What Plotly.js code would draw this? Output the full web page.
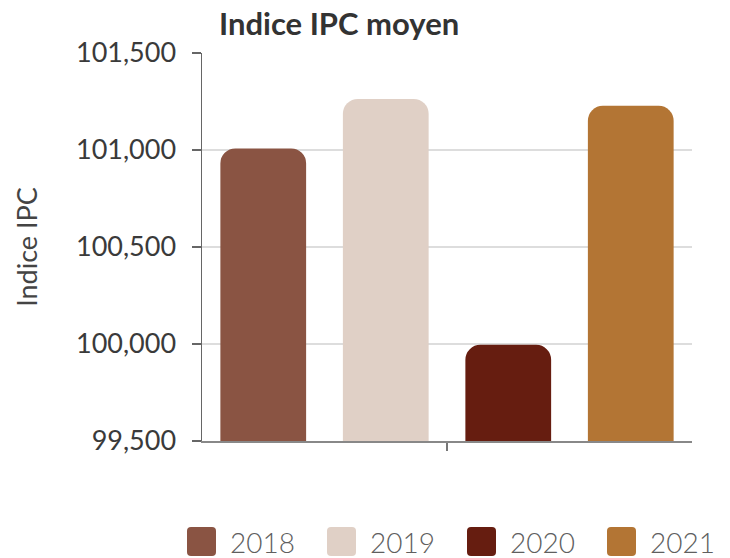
<!DOCTYPE html>
<html>
<head>
<meta charset="utf-8">
<script src="https://cdn.plot.ly/plotly-3.0.1.min.js"></script>
<style>
  html, body { margin: 0; padding: 0; background: #ffffff; }
  #chart { width: 730px; height: 558px; }
</style>
</head>
<body>
<div id="chart"></div>
<script>
// ---- Data ----
const category = ['Indice IPC moyen'];
const years = ['2018', '2019', '2020', '2021'];
const values = [101008, 101263, 99996, 101228];
const colors = ['#8a5443', '#e0d0c6', '#661d10', '#b37534'];
const yTicks = [99500, 100000, 100500, 101000, 101500];

const traces = years.map((yr, i) => ({
  type: 'bar',
  name: yr,
  x: category,
  y: [values[i]],
  marker: { color: colors[i], line: { width: 0 } },
  showlegend: false,
  hovertemplate: yr + ': %{y:,}<extra></extra>'
}));

// Custom legend (large rounded squares + text), positioned in pixels from plot bottom-left
const shapes = [];
const annotations = [];
const itemStep = 140, sq = 29, sqLeft = -15, sqTop = -86, r = 4;
years.forEach((yr, i) => {
  const L = sqLeft + i * itemStep, R = L + sq, T = sqTop, B = sqTop - sq;
  const path = `M${L + r},${T} L${R - r},${T} Q${R},${T} ${R},${T - r} L${R},${B + r} Q${R},${B} ${R - r},${B} ` +
               `L${L + r},${B} Q${L},${B} ${L},${B + r} L${L},${T - r} Q${L},${T} ${L + r},${T} Z`;
  shapes.push({
    type: 'path', xref: 'paper', yref: 'paper',
    xsizemode: 'pixel', ysizemode: 'pixel', xanchor: 0, yanchor: 0,
    path: path, fillcolor: colors[i], line: { width: 0 }
  });
  annotations.push({
    xref: 'paper', yref: 'paper', x: 0, y: 0,
    xshift: L + 41, yshift: -100.5,
    xanchor: 'left', yanchor: 'middle',
    text: yr, showarrow: false,
    font: { family: 'Lato, sans-serif', size: 28, weight: 300, color: '#5f5f5f' }
  });
});

const layout = {
  width: 730, height: 558,
  margin: { l: 202, r: 38, t: 53, b: 117, pad: 0 },
  paper_bgcolor: '#ffffff', plot_bgcolor: '#ffffff',
  font: { family: 'Lato, sans-serif', color: '#444444' },
  title: {
    text: '<b>Indice IPC moyen</b>',
    font: { family: 'Lato, sans-serif', size: 31, color: '#333333' },
    xref: 'container', yref: 'container',
    x: 219 / 730, xanchor: 'left',
    y: 1 - 24 / 558, yanchor: 'middle'
  },
  barmode: 'group',
  bargap: 0,
  bargroupgap: 0.30,
  barcornerradius: 15,
  xaxis: {
    type: 'category',
    showticklabels: false,
    ticks: 'outside', ticklen: 8, tickcolor: '#777777', tickwidth: 1.2,
    showline: true, linecolor: '#888888', linewidth: 1.5,
    showgrid: false, zeroline: false,
    fixedrange: true
  },
  yaxis: {
    range: [99500, 101500],
    tickvals: yTicks,
    tickformat: ',',
    ticks: 'outside', ticklen: 9, tickcolor: '#666666', tickwidth: 1.2,
    ticklabelstandoff: 10,
    tickfont: { family: 'Lato, sans-serif', size: 27, color: '#3a3a3a' },
    showline: true, linecolor: '#666666', linewidth: 1.5,
    showgrid: true, gridcolor: '#dddddd', gridwidth: 1.2,
    zeroline: false,
    title: {
      text: 'Indice IPC',
      font: { family: 'Lato, sans-serif', size: 27, color: '#444444' },
      standoff: 30
    },
    fixedrange: true
  },
  shapes: shapes,
  annotations: annotations,
  showlegend: false
};

Plotly.newPlot('chart', traces, layout, { displayModeBar: false, staticPlot: true });
</script>
</body>
</html>
